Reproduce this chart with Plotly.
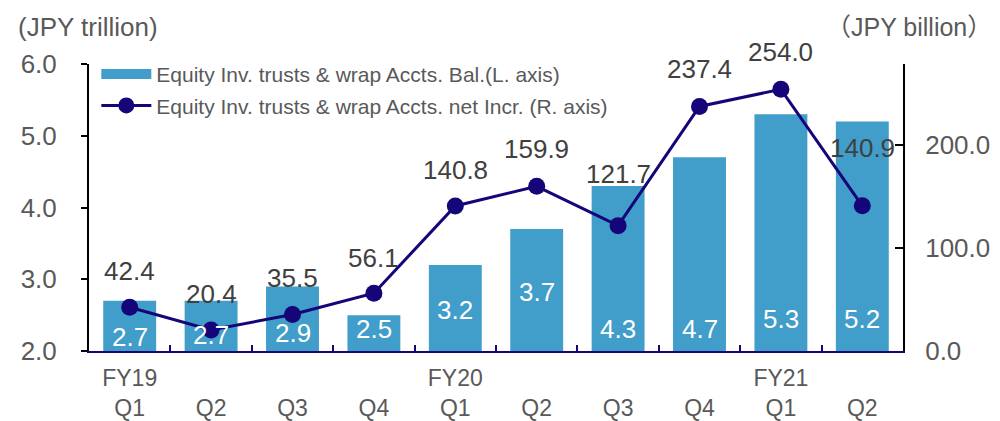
import plotly.graph_objects as go

categories = ["FY19 Q1", "FY19 Q2", "FY19 Q3", "FY19 Q4", "FY20 Q1", "FY20 Q2",
              "FY20 Q3", "FY20 Q4", "FY21 Q1", "FY21 Q2"]
tick_labels = ["FY19<br>Q1", " <br>Q2", " <br>Q3", " <br>Q4", "FY20<br>Q1", " <br>Q2",
               " <br>Q3", " <br>Q4", "FY21<br>Q1", " <br>Q2"]
balance = [2.7, 2.7, 2.9, 2.5, 3.2, 3.7, 4.3, 4.7, 5.3, 5.2]
net_incr = [42.4, 20.4, 35.5, 56.1, 140.8, 159.9, 121.7, 237.4, 254.0, 140.9]

BAR_NAME = "Equity Inv. trusts & wrap Accts. Bal.(L. axis)"
LINE_NAME = "Equity Inv. trusts & wrap Accts. net Incr. (R. axis)"

# label pixel offsets (styling)
bar_label_shift = [-36, -34, -47, -14, -45, -63, -143, -172, -205, -198]
line_label_shift = [36, 36, 36, 35, 36, 37, 52, 37, 37, 58]

FONT = "Liberation Sans, Arial, Noto Sans CJK JP, sans-serif"
GRAY = "#595959"
DARK = "#404040"
BAR = "#419DC9"
NAVY = "#140578"

# page body adds an 8px offset, so the figure is sized/placed to compensate
W, H = 992, 413
L, R, T, B = 81, 97, 56, 70
pw, ph = W - L - R, H - T - B

fig = go.Figure()
fig.add_trace(go.Bar(
    x=categories, y=balance, name=BAR_NAME,
    marker=dict(color=BAR, line=dict(width=0)), width=0.65, yaxis="y",
    legendgroup="a", showlegend=False,
))
# legend-only entry giving the wide bar swatch
fig.add_trace(go.Scatter(
    x=[None], y=[None], name=BAR_NAME, mode="lines",
    line=dict(color=BAR, width=12), legendgroup="a", showlegend=True,
))
fig.add_trace(go.Scatter(
    x=categories, y=net_incr, name=LINE_NAME,
    mode="lines+markers", line=dict(color=NAVY, width=3),
    marker=dict(color=NAVY, size=17), yaxis="y2", legendgroup="b",
))

annotations = []
for c, v, s in zip(categories, balance, bar_label_shift):
    annotations.append(dict(x=c, y=v, xref="x", yref="y", text=f"{v:.1f}", showarrow=False,
                            yanchor="middle", yshift=s,
                            font=dict(family=FONT, size=26, color="white")))
for c, v, s in zip(categories, net_incr, line_label_shift):
    annotations.append(dict(x=c, y=v, xref="x", yref="y2", text=f"{v:.1f}", showarrow=False,
                            yanchor="middle", yshift=s,
                            font=dict(family=FONT, size=26, color=DARK)))
annotations.append(dict(x=(80 - L) / pw, y=(H - 19 - B) / ph, xref="paper", yref="paper",
                        xanchor="center", yanchor="middle",
                        text="(JPY trillion)", showarrow=False,
                        font=dict(family=FONT, size=26, color=GRAY)))
annotations.append(dict(x=(986 - L) / pw, y=(H - 19 - B) / ph, xref="paper", yref="paper",
                        xanchor="right", yanchor="middle",
                        text="（JPY billion）", showarrow=False,
                        font=dict(family=FONT, size=25, color=GRAY)))

fig.update_layout(
    width=W, height=H,
    margin=dict(l=L, r=R, t=T, b=B, pad=0, autoexpand=False),
    paper_bgcolor="white", plot_bgcolor="white",
    font=dict(family=FONT, color=GRAY),
    showlegend=True,
    legend=dict(x=0.009, y=1.035, xanchor="left", yanchor="top",
                bgcolor="rgba(255,255,255,0)", traceorder="grouped", tracegroupgap=1,
                font=dict(family=FONT, size=21, color=GRAY), itemwidth=50),
    xaxis=dict(
        type="category", range=[-0.5, 9.5], tickmode="array", tickvals=categories,
        ticktext=tick_labels, ticks="inside", tickson="boundaries", ticklen=6,
        tickwidth=2, tickcolor=NAVY, showline=True, linecolor=NAVY, linewidth=2,
        showgrid=False, tickfont=dict(family=FONT, size=23, color=GRAY),
        ticklabelstandoff=5, automargin=False,
    ),
    yaxis=dict(
        range=[2, 6], dtick=1, tickformat=".1f", ticks="outside", ticklen=6,
        tickwidth=2, tickcolor="black", showline=True, linecolor="black", linewidth=2,
        showgrid=False, zeroline=False, tickfont=dict(family=FONT, size=26, color=GRAY),
        ticklabelstandoff=19, automargin=False,
    ),
    yaxis2=dict(
        range=[0, 278.6], dtick=100, tickformat=".1f", overlaying="y", side="right",
        ticks="inside", ticklen=8, tickwidth=2, tickcolor="black", showline=True,
        linecolor="black", linewidth=2, showgrid=False, zeroline=False,
        tickfont=dict(family=FONT, size=26, color=GRAY), ticklabelstandoff=15,
        automargin=False,
    ),
    annotations=annotations,
)

fig.write_html("out.html")
